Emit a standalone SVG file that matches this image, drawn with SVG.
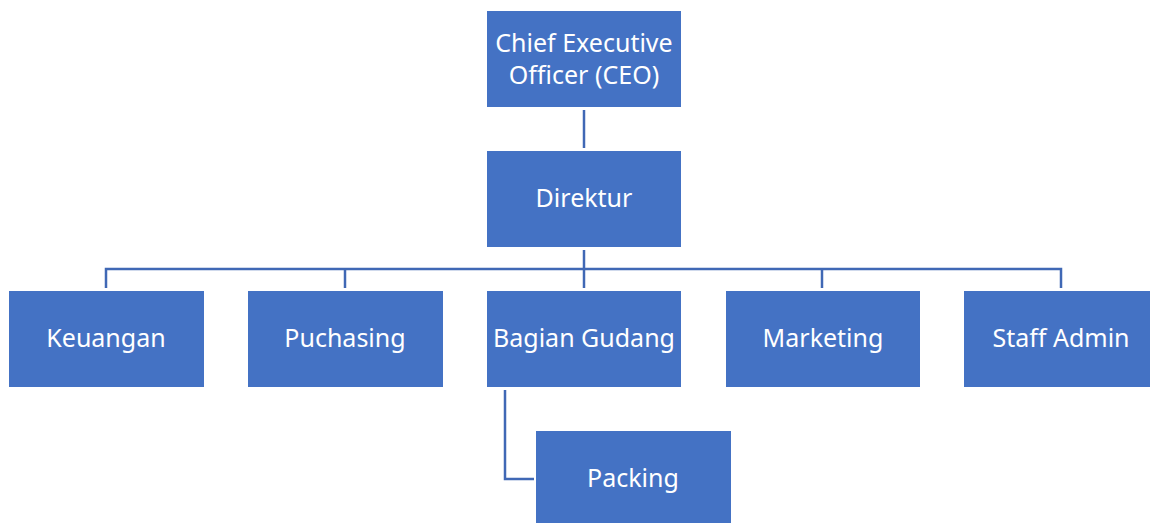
<svg xmlns="http://www.w3.org/2000/svg" width="1150" height="523" viewBox="0 0 1150 523">
<style>
.box{fill:#4472C4;}
.lbl{fill:#fff;font-family:"Noto Sans","Liberation Sans",sans-serif;font-size:25px;text-anchor:middle;}
.con{stroke:#4068B5;stroke-width:2.5;fill:none;}
</style>
<rect width="1150" height="523" fill="#fff"/>
<g id="connectors">
<line class="con" x1="584" y1="110" x2="584" y2="148"/>
<line class="con" x1="584" y1="250" x2="584" y2="288"/>
<polyline class="con" points="106,288 106,269 1061,269 1061,288"/>
<line class="con" x1="345" y1="269" x2="345" y2="288"/>
<line class="con" x1="822" y1="269" x2="822" y2="288"/>
<polyline class="con" points="505,390 505,479 534,479"/>
</g>
<g id="ceo"><rect class="box" x="487" y="11" width="194" height="96"/><text class="lbl" x="584" y="52">Chief Executive</text><text class="lbl" x="584" y="84">Officer (CEO)</text></g>
<g id="direktur"><rect class="box" x="487" y="151" width="194" height="96"/><text class="lbl" x="584" y="207">Direktur</text></g>
<g id="keuangan"><rect class="box" x="9" y="291" width="195" height="96"/><text class="lbl" x="106" y="347">Keuangan</text></g>
<g id="puchasing"><rect class="box" x="248" y="291" width="195" height="96"/><text class="lbl" x="345" y="347">Puchasing</text></g>
<g id="gudang"><rect class="box" x="487" y="291" width="194" height="96"/><text class="lbl" x="584" y="347">Bagian Gudang</text></g>
<g id="marketing"><rect class="box" x="726" y="291" width="194" height="96"/><text class="lbl" x="823" y="347">Marketing</text></g>
<g id="staff"><rect class="box" x="964" y="291" width="186" height="96"/><text class="lbl" x="1061" y="347">Staff Admin</text></g>
<g id="packing"><rect class="box" x="536" y="431" width="195" height="92"/><text class="lbl" x="633" y="487">Packing</text></g>
</svg>
